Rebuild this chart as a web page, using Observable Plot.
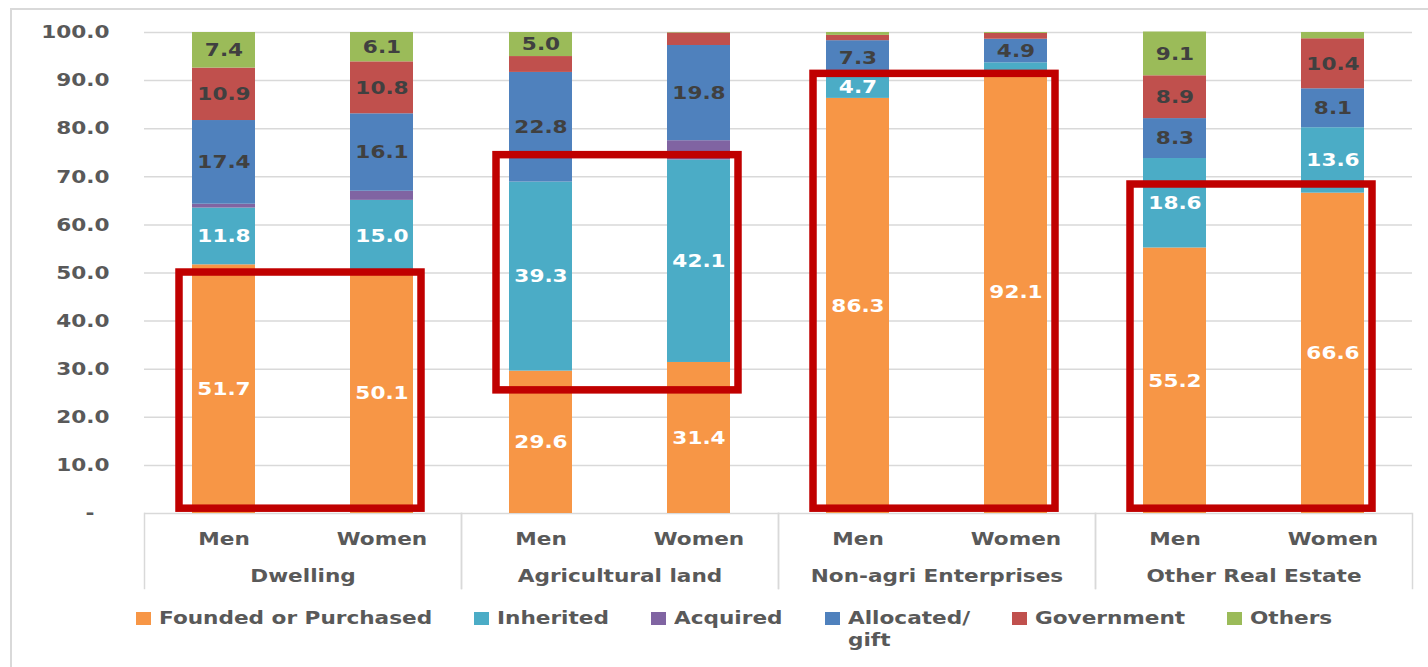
<!DOCTYPE html>
<html>
<head>
<meta charset="utf-8">
<script src="https://cdn.jsdelivr.net/npm/d3@7"></script>
<script src="https://cdn.jsdelivr.net/npm/@observablehq/plot@0.6"></script>
<style>
  body { margin: 0; background: #fff; }
  #wrap { position: relative; width: 1428px; height: 667px; overflow: hidden; font-family: "DejaVu Sans", sans-serif; background: #fff; }
  #border { position: absolute; left: 10px; top: 8px; right: -4px; bottom: -4px; border-left: 2px solid #d9d9d9; border-top: 2px solid #d9d9d9; }
  #chart { position: absolute; left: 0; top: 0; }
  #legend { position: absolute; left: 136px; top: 607px; display: flex; align-items: flex-start; gap: 42px; }
  .item { display: flex; align-items: flex-start; }
  .sw { width: 15px; height: 13px; margin-top: 5px; margin-right: 8px; flex: none; }
  .lab { font-weight: bold; font-size: 18px; line-height: 22px; color: #595959; }
  .lab > div { white-space: pre; transform-origin: left top; }
</style>
</head>
<body>
<div id="wrap">
  <div id="border"></div>
  <div id="chart"></div>
  <div id="legend"></div>
</div>
<script>
// ---- data ----
const groups = ["Dwelling", "Agricultural land", "Non-agri Enterprises", "Other Real Estate"];
const genders = ["Men", "Women"];
const series = ["Founded or Purchased", "Inherited", "Acquired", "Allocated/ gift", "Government", "Others"];
const colors = ["#F79646", "#4BACC6", "#8064A2", "#4F81BD", "#C0504D", "#9BBB59"];
// order of bars: Dwelling M, W; Agricultural M, W; Non-agri M, W; Other RE M, W
const founded    = [51.7, 50.1, 29.6, 31.4, 86.3, 92.1, 55.2, 66.6];
const inherited  = [11.8, 15.0, 39.3, 42.1, 4.7, 1.6, 18.6, 13.6];
const acquired   = [0.8, 1.9, 0.0, 4.0, 0.0, 0.0, 0.0, 0.0];
const allocated  = [17.4, 16.1, 22.8, 19.8, 7.3, 4.9, 8.3, 8.1];
const government = [10.9, 10.8, 3.3, 2.6, 1.1, 1.2, 8.9, 10.4];
const others     = [7.4, 6.1, 5.0, 0.1, 0.6, 0.2, 9.1, 1.3];
const yTicks = [0, 10, 20, 30, 40, 50, 60, 70, 80, 90, 100];
// highlighted (red-framed) ranges per group
const boxGroups = ["Dwelling", "Agricultural land", "Non-agri Enterprises", "Other Real Estate"];
const boxLow  = [1.0, 25.6, 1.0, 1.0];
const boxHigh = [50.1, 74.5, 91.4, 68.4];

// ---- build tables ----
const valuesBySeries = [founded, inherited, acquired, allocated, government, others];
const rows = [];
groups.forEach((g, gi) => genders.forEach((s, si) => {
  const idx = gi * 2 + si;
  series.forEach((ser, k) => rows.push({group: g, gender: s, series: ser, value: valuesBySeries[k][idx]}));
}));
const boxes = boxGroups.map((g, i) => ({group: g, lo: boxLow[i], hi: boxHigh[i]}));

const lightSeries = new Set(["Founded or Purchased", "Inherited"]);
const showLabel = d => d.series !== "Acquired" && d.value >= 4.5;
const fmt = v => v.toFixed(1);

const SX = 1.2; // horizontal glyph stretch of the reference

const chart = Plot.plot({
  width: 1428,
  height: 600,
  marginLeft: 143,
  marginRight: 15,
  marginTop: 32,
  marginBottom: 87,
  style: {fontFamily: "'DejaVu Sans', sans-serif", fontSize: "18px", background: "transparent", overflow: "visible"},
  fx: {domain: groups, padding: 0, label: null},
  x: {domain: genders, paddingInner: 0.6, paddingOuter: 0.3, label: null},
  y: {domain: [0, 100], label: null},
  color: {domain: series, range: colors},
  marks: [
    Plot.gridY({ticks: yTicks, stroke: "#d9d9d9", strokeOpacity: 1, strokeWidth: 1.5}),
    Plot.frame({anchor: "left", stroke: "#d9d9d9", strokeWidth: 1.5, insetTop: 481, insetBottom: -75}),
    Plot.frame({anchor: "right", stroke: "#d9d9d9", strokeWidth: 1.5, insetTop: 481, insetBottom: -75}),
    Plot.barY(rows, {fx: "group", x: "gender", y: "value", fill: "series", z: "series", order: series}),
    Plot.text(rows, Plot.stackY({
      fx: "group", x: "gender", y: "value", z: "series", order: series,
      text: d => (showLabel(d) && lightSeries.has(d.series)) ? fmt(d.value) : "",
      fill: "#ffffff", fontWeight: "bold", fontSize: 18
    })),
    Plot.text(rows, Plot.stackY({
      fx: "group", x: "gender", y: "value", z: "series", order: series,
      text: d => (showLabel(d) && !lightSeries.has(d.series)) ? fmt(d.value) : "",
      fill: "#404040", fontWeight: "bold", fontSize: 18
    })),
    Plot.rect(boxes, {fx: "group", y1: "lo", y2: "hi", fill: "none", stroke: "#C00000", strokeWidth: 7.5, insetLeft: 35, insetRight: 40}),
    Plot.axisY({ticks: yTicks, tickSize: 0, tickPadding: 35, label: null,
      tickFormat: d => d === 0 ? "-\u00a0\u00a0" : d.toFixed(1),
      fontWeight: "bold", fill: "#595959", fontSize: 18}),
    Plot.axisX({anchor: "bottom", tickSize: 0, tickPadding: 19, label: null, fontWeight: "bold", fill: "#595959", fontSize: 18}),
    Plot.axisFx({anchor: "bottom", tickSize: 0, tickPadding: 56, label: null, fontWeight: "bold", fill: "#595959", fontSize: 18})
  ]
});

// stretch glyphs horizontally around each text anchor
chart.querySelectorAll("text").forEach(t => {
  const tr = t.getAttribute("transform");
  if (tr) {
    t.setAttribute("transform", tr + ` scale(${SX},1)`);
  } else {
    const x = +(t.getAttribute("x") || 0), y = +(t.getAttribute("y") || 0);
    t.setAttribute("transform", `translate(${x},${y}) scale(${SX},1) translate(${-x},${-y})`);
  }
});
document.getElementById("chart").appendChild(chart);

// ---- legend ----
const ctx = document.createElement("canvas").getContext("2d");
ctx.font = "bold 18px 'DejaVu Sans'";
const legend = document.getElementById("legend");
series.forEach((s, i) => {
  const item = document.createElement("div");
  item.className = "item";
  const sw = document.createElement("div");
  sw.className = "sw";
  sw.style.background = colors[i];
  const lab = document.createElement("div");
  lab.className = "lab";
  const lines = s.replace("/ ", "/\n").split("\n");
  const w = Math.max(...lines.map(l => ctx.measureText(l).width));
  lab.style.width = (w * SX) + "px";
  const inner = document.createElement("div");
  inner.textContent = lines.join("\n");
  inner.style.transform = `scaleX(${SX})`;
  lab.appendChild(inner);
  item.appendChild(sw);
  item.appendChild(lab);
  legend.appendChild(item);
});
</script>
</body>
</html>
